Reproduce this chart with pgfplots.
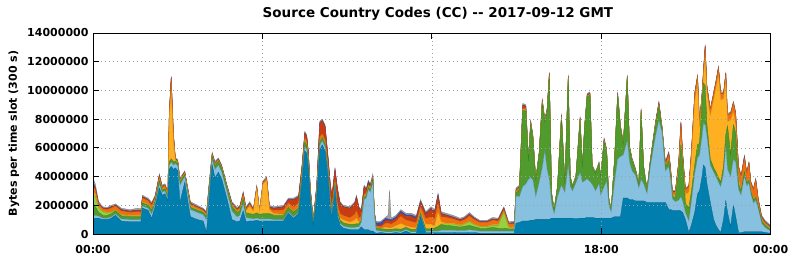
\documentclass[border=0pt]{standalone}
\usepackage{pgfplots}
\pgfplotsset{compat=1.18}
\usepackage{pgfplotstable}
\usepackage{fontspec}
\setmainfont{DejaVu Sans}
\definecolor{cdb}{RGB}{0,127,175}
\definecolor{clb}{RGB}{136,192,224}
\definecolor{cg}{RGB}{80,155,45}
\definecolor{clg}{RGB}{153,208,64}
\definecolor{cy}{RGB}{255,176,32}
\definecolor{co}{RGB}{240,112,16}
\definecolor{cr}{RGB}{200,60,20}
\definecolor{cb}{RGB}{48,80,192}
\definecolor{cgr}{RGB}{160,160,160}
\pgfplotstableread{
t db lb g lg y o r b gr
0.00 1.0 0.25 0.8 0.7 0.2 0.4 0.2 0.05 0.3
0.08 1.1 0.2 0.6 0.7 0.2 0.3 0.1 0.05 0.25
0.20 1.1 0.15 0.25 0.3 0.1 0.15 0.05 0.02 0.13
0.35 1.0 0.1 0.2 0.25 0.05 0.15 0.05 0.02 0.08
0.50 1.0 0.1 0.2 0.15 0.05 0.2 0.05 0.02 0.08
0.65 1.1 0.1 0.2 0.1 0.05 0.25 0.08 0.02 0.1
0.80 1.3 0.1 0.2 0.05 0.05 0.25 0.05 0.02 0.08
1.00 0.9 0.15 0.2 0.05 0.05 0.25 0.08 0.02 0.1
1.30 0.85 0.15 0.2 0.05 0.05 0.2 0.08 0.02 0.1
1.60 0.85 0.15 0.2 0.05 0.05 0.25 0.1 0.02 0.13
1.70 0.85 0.15 0.2 0.05 0.05 0.22 0.1 0.02 0.11
1.75 1.8 0.15 0.2 0.05 0.05 0.25 0.08 0.02 0.1
1.95 1.65 0.15 0.2 0.05 0.05 0.22 0.06 0.02 0.1
2.08 1.1 0.3 0.25 0.05 0.05 0.25 0.08 0.02 0.1
2.20 1.9 0.2 0.2 0.05 0.05 0.15 0.03 0.02 0.1
2.35 3.2 0.3 0.2 0.05 0.05 0.2 0.08 0.02 0.1
2.45 2.7 0.2 0.15 0.03 0.05 0.12 0.03 0.02 0.1
2.55 2.8 0.2 0.15 0.03 0.05 0.15 0.02 0.02 0.08
2.65 2.3 0.2 0.15 0.03 0.1 0.12 0.02 0.02 0.06
2.70 4.5 0.3 0.2 0.05 2.9 0.4 0.05 0.02 0.08
2.77 4.7 0.3 0.2 0.05 4.7 0.9 0.05 0.02 0.08
2.85 4.5 0.3 0.2 0.05 1.4 0.4 0.05 0.02 0.08
2.92 4.6 0.3 0.15 0.03 0.05 0.05 0.02 0.02 0.08
3.00 4.4 0.35 0.2 0.03 0.05 0.05 0.02 0.02 0.08
3.08 2.2 1.2 0.2 0.03 0.05 0.1 0.02 0.02 0.08
3.25 3.6 0.4 0.15 0.03 0.05 0.05 0.02 0.02 0.08
3.38 2.0 0.5 0.15 0.03 0.05 0.15 0.02 0.02 0.08
3.45 1.2 0.5 0.15 0.03 0.05 0.15 0.05 0.02 0.1
3.70 1.0 0.5 0.15 0.03 0.05 0.12 0.03 0.02 0.1
3.90 0.9 0.45 0.15 0.03 0.05 0.1 0.02 0.02 0.08
4.02 0.1 0.9 0.2 0.03 0.05 0.12 0.05 0.02 0.08
4.12 2.6 0.5 0.2 0.03 0.05 0.15 0.05 0.02 0.1
4.22 4.8 0.4 0.2 0.03 0.03 0.1 0.02 0.02 0.1
4.32 3.9 0.6 0.25 0.03 0.03 0.1 0.02 0.02 0.1
4.44 4.3 0.5 0.25 0.03 0.03 0.07 0.02 0.02 0.08
4.56 3.8 0.5 0.25 0.03 0.03 0.07 0.02 0.02 0.08
4.75 2.4 0.5 0.25 0.03 0.03 0.07 0.02 0.02 0.08
4.92 1.0 0.6 0.3 0.03 0.05 0.12 0.03 0.02 0.1
5.10 0.85 0.35 0.3 0.03 0.05 0.12 0.03 0.02 0.1
5.20 0.9 0.4 0.3 0.03 0.05 0.15 0.05 0.02 0.1
5.32 1.6 0.5 0.35 0.03 0.1 0.2 0.05 0.02 0.1
5.42 0.85 0.3 0.3 0.03 0.15 0.12 0.03 0.02 0.1
5.55 0.9 0.2 0.3 0.03 0.5 0.15 0.05 0.02 0.1
5.68 0.9 0.15 0.3 0.03 0.2 0.1 0.0 0.02 0.1
5.80 0.95 0.15 0.35 0.03 1.7 0.1 0.0 0.02 0.1
5.90 0.9 0.15 0.3 0.03 0.2 0.0 0.0 0.02 0.1
6.02 0.9 0.15 0.35 0.03 2.05 0.1 0.0 0.02 0.1
6.15 0.9 0.15 0.35 0.03 2.3 0.15 0.0 0.02 0.1
6.25 0.9 0.15 0.35 0.03 0.25 0.1 0.1 0.02 0.1
6.40 0.9 0.1 0.3 0.03 0.1 0.2 0.15 0.02 0.1
6.75 0.9 0.1 0.3 0.03 0.05 0.3 0.2 0.02 0.1
6.92 1.45 0.1 0.3 0.03 0.05 0.25 0.2 0.02 0.1
7.10 1.1 0.1 0.3 0.03 0.05 0.3 0.5 0.02 0.1
7.28 1.4 0.1 0.3 0.03 0.05 0.3 0.4 0.02 0.1
7.40 3.6 0.2 0.3 0.03 0.05 0.2 0.3 0.02 0.1
7.50 5.8 0.3 0.3 0.03 0.1 0.2 0.3 0.02 0.1
7.57 5.6 0.3 0.25 0.03 0.1 0.2 0.3 0.02 0.1
7.63 4.5 0.3 0.25 0.03 0.1 0.2 0.25 0.02 0.1
7.70 2.25 0.25 0.2 0.03 0.05 0.15 0.15 0.02 0.1
7.80 0.6 0.1 0.15 0.03 0.02 0.05 0.03 0.02 0.1
7.92 2.4 0.2 0.2 0.03 0.05 0.15 0.25 0.02 0.1
8.03 5.85 0.3 0.25 0.03 0.05 0.3 0.95 0.02 0.1
8.12 6.2 0.3 0.2 0.03 0.05 0.2 0.9 0.02 0.1
8.22 5.75 0.3 0.2 0.03 0.05 0.25 0.9 0.02 0.1
8.33 3.9 0.3 0.2 0.03 0.05 0.2 0.5 0.02 0.1
8.40 1.8 0.3 0.2 0.03 0.05 0.25 0.9 0.02 0.1
8.46 1.2 0.2 0.2 0.03 0.05 0.2 0.7 0.02 0.1
8.57 3.1 0.2 0.2 0.03 0.05 0.2 0.7 0.02 0.1
8.66 1.2 0.2 0.2 0.03 0.1 0.3 1.05 0.02 0.1
8.75 0.6 0.15 0.2 0.03 0.15 0.3 0.7 0.02 0.1
8.87 0.4 0.15 0.2 0.03 0.2 0.3 0.6 0.02 0.1
9.10 0.3 0.15 0.2 0.03 0.15 0.3 0.65 0.02 0.1
9.27 0.3 0.15 0.2 0.03 0.3 0.4 0.75 0.02 0.1
9.33 0.3 0.2 0.2 0.03 0.4 0.5 0.95 0.02 0.1
9.42 0.3 0.2 0.2 0.03 0.1 0.3 0.65 0.02 0.1
9.50 0.5 0.3 0.15 0.03 0.05 0.2 0.35 0.02 0.1
9.60 0.3 2.1 0.15 0.03 0.05 0.15 0.5 0.02 0.1
9.68 0.3 2.2 0.15 0.03 0.05 0.1 0.25 0.02 0.1
9.75 0.3 2.8 0.15 0.03 0.05 0.1 0.1 0.12 0.1
9.82 0.2 2.7 0.15 0.03 0.1 0.1 0.0 0.12 0.1
9.91 0.2 3.4 0.25 0.03 0.05 0.05 0.0 0.02 0.2
9.97 0.1 1.1 0.1 0.03 0.02 0.05 0.0 0.05 0.1
10.03 0.05 0.2 0.15 0.03 0.02 0.1 0.05 0.15 0.1
10.20 0.1 0.1 0.15 0.03 0.02 0.1 0.1 0.2 0.1
10.38 0.05 0.1 0.15 0.03 0.15 0.3 0.2 0.12 0.1
10.45 0.05 0.1 0.15 0.03 0.1 0.3 0.2 0.1 0.27
10.50 0.05 0.1 0.15 0.03 0.1 0.3 0.2 0.1 2.02
10.56 0.05 0.1 0.15 0.03 0.1 0.25 0.2 0.1 0.12
10.73 0.1 0.1 0.15 0.03 0.2 0.3 0.2 0.1 0.12
10.90 0.05 0.1 0.15 0.03 0.4 0.5 0.25 0.1 0.12
11.08 0.2 0.1 0.15 0.03 0.1 0.4 0.25 0.1 0.12
11.26 0.05 0.1 0.15 0.03 0.15 0.4 0.35 0.1 0.12
11.45 0.05 0.1 0.15 0.03 0.1 0.35 0.3 0.1 0.12
11.60 1.2 0.1 0.15 0.03 0.1 0.35 0.3 0.05 0.12
11.78 0.1 0.1 0.15 0.03 0.3 0.4 0.3 0.05 0.12
11.97 0.1 0.1 0.15 0.03 0.3 0.5 0.55 0.05 0.12
12.10 0.1 0.1 0.2 0.03 0.15 0.5 0.45 0.05 0.12
12.22 0.1 0.1 0.3 0.03 1.0 0.6 0.55 0.05 0.12
12.33 0.1 0.15 0.4 0.05 0.15 0.35 0.2 0.03 0.12
12.50 0.1 0.15 0.35 0.1 0.05 0.4 0.15 0.03 0.12
12.75 0.1 0.15 0.3 0.15 0.05 0.3 0.1 0.03 0.12
13.00 0.08 0.15 0.25 0.1 0.05 0.25 0.1 0.02 0.1
13.15 0.08 0.15 0.3 0.15 0.05 0.25 0.1 0.02 0.1
13.33 0.1 0.2 0.3 0.25 0.05 0.35 0.1 0.03 0.12
13.50 0.1 0.15 0.25 0.15 0.05 0.3 0.08 0.02 0.1
13.70 0.05 0.15 0.2 0.1 0.05 0.25 0.05 0.02 0.08
13.95 0.05 0.15 0.2 0.1 0.05 0.25 0.05 0.02 0.08
14.15 0.05 0.15 0.25 0.15 0.05 0.3 0.08 0.02 0.1
14.35 0.05 0.15 0.2 0.2 0.05 0.25 0.08 0.02 0.1
14.55 0.05 0.15 0.2 1.1 0.05 0.15 0.08 0.02 0.1
14.72 0.05 0.15 0.15 0.1 0.05 0.2 0.03 0.02 0.1
14.92 0.05 0.15 0.15 0.05 0.05 0.25 0.08 0.02 0.1
14.98 0.75 1.9 0.2 0.03 0.05 0.1 0.05 0.02 0.1
15.10 0.8 1.8 0.5 0.03 0.02 0.1 0.03 0.02 0.1
15.22 0.9 2.4 5.3 0.03 0.05 0.1 0.2 0.02 0.1
15.33 0.9 2.6 5.05 0.03 0.05 0.1 0.15 0.02 0.1
15.42 0.9 2.9 1.25 0.03 0.03 0.05 0.02 0.02 0.1
15.50 0.95 3.0 3.7 0.03 0.03 0.05 0.05 0.02 0.12
15.58 0.95 2.8 2.9 0.03 0.03 0.05 0.02 0.02 0.1
15.68 1.0 1.6 1.1 0.03 0.02 0.03 0.0 0.02 0.1
15.80 1.0 2.6 1.9 0.03 0.02 0.05 0.03 0.02 0.1
15.91 1.0 3.6 4.5 0.03 0.05 0.1 0.05 0.02 0.1
16.00 1.0 4.8 2.0 0.03 0.02 0.05 0.03 0.02 0.1
16.08 1.0 3.5 4.0 0.03 0.02 0.05 0.03 0.02 0.1
16.16 1.0 2.8 7.1 0.03 0.05 0.15 0.05 0.02 0.1
16.24 1.1 1.0 0.65 0.03 0.02 0.03 0.0 0.02 0.1
16.33 1.1 0.3 0.25 0.03 0.0 0.0 0.0 0.02 0.1
16.45 1.1 1.5 0.65 0.03 0.0 0.0 0.0 0.02 0.1
16.59 1.1 2.3 4.7 0.03 0.03 0.05 0.07 0.02 0.1
16.71 1.1 1.8 0.6 0.03 0.0 0.0 0.0 0.02 0.1
16.83 1.1 3.7 6.0 0.03 0.03 0.05 0.07 0.02 0.1
16.90 1.1 2.2 0.65 0.03 0.0 0.0 0.0 0.02 0.1
16.98 1.1 1.9 0.25 0.03 0.0 0.0 0.0 0.02 0.1
17.10 1.05 2.5 0.4 0.03 0.0 0.0 0.0 0.02 0.1
17.25 1.1 3.2 3.6 0.03 0.03 0.05 0.07 0.02 0.1
17.33 1.1 2.5 1.05 0.03 0.0 0.0 0.0 0.02 0.1
17.41 1.1 2.6 3.65 0.03 0.02 0.03 0.05 0.02 0.1
17.50 1.15 2.7 5.7 0.03 0.02 0.03 0.05 0.02 0.1
17.60 1.15 2.5 6.0 0.03 0.02 0.03 0.05 0.02 0.1
17.68 1.15 2.3 1.2 0.03 0.0 0.0 0.0 0.02 0.1
17.80 1.1 1.9 1.2 0.03 0.0 0.0 0.0 0.02 0.1
17.92 1.1 2.4 1.4 0.03 0.0 0.0 0.0 0.02 0.1
17.98 1.1 1.6 1.25 0.03 0.0 0.0 0.0 0.02 0.1
18.10 1.1 2.2 3.1 0.03 0.03 0.05 0.07 0.02 0.1
18.19 1.1 2.6 2.0 0.03 0.02 0.03 0.05 0.02 0.1
18.27 1.1 0.9 0.35 0.03 0.0 0.0 0.0 0.02 0.1
18.35 1.1 0.45 0.1 0.03 0.0 0.0 0.0 0.02 0.1
18.47 1.2 2.4 1.5 0.03 0.0 0.02 0.03 0.02 0.1
18.58 1.2 4.0 4.4 0.03 0.02 0.05 0.08 0.02 0.1
18.68 1.2 4.2 2.0 0.03 0.0 0.02 0.03 0.02 0.1
18.78 2.5 3.0 0.75 0.03 0.0 0.02 0.03 0.02 0.1
18.92 2.5 4.0 4.35 0.03 0.02 0.05 0.03 0.02 0.1
19.00 2.4 2.6 1.0 0.03 0.0 0.02 0.03 0.02 0.1
19.09 2.4 2.0 0.7 0.03 0.0 0.02 0.03 0.02 0.1
19.21 2.3 1.8 0.3 0.03 0.0 0.02 0.03 0.02 0.1
19.33 2.3 0.9 0.25 0.03 0.0 0.02 0.03 0.02 0.1
19.41 2.3 1.5 4.7 0.03 0.02 0.05 0.03 0.02 0.1
19.50 2.3 1.2 1.1 0.03 0.0 0.02 0.03 0.02 0.1
19.62 2.2 0.6 0.2 0.03 0.0 0.02 0.03 0.02 0.1
19.74 2.2 2.5 0.4 0.03 0.0 0.02 0.03 0.02 0.1
19.92 2.2 4.6 0.75 0.03 0.02 0.05 0.08 0.02 0.1
20.04 2.2 5.7 1.0 0.03 0.02 0.1 0.08 0.02 0.1
20.15 2.2 4.9 0.2 0.03 0.02 0.1 0.03 0.02 0.1
20.27 2.2 2.2 0.3 0.03 0.05 0.1 0.05 0.02 0.1
20.39 1.7 3.0 0.4 0.03 0.05 0.35 0.1 0.02 0.1
20.45 1.7 2.2 0.3 0.03 0.05 0.35 0.05 0.02 0.1
20.52 1.65 0.8 0.2 0.03 0.05 0.15 0.05 0.02 0.1
20.62 1.65 0.6 0.25 0.03 0.15 0.25 0.0 0.02 0.1
20.74 1.65 0.7 2.0 0.03 0.2 0.35 0.0 0.02 0.1
20.82 1.6 1.0 3.6 0.03 0.5 1.0 0.0 0.02 0.1
20.88 1.5 0.8 2.7 0.03 0.2 0.4 0.0 0.02 0.1
20.98 1.0 0.5 0.6 0.03 0.6 0.35 0.0 0.02 0.1
21.10 0.1 0.8 0.9 0.03 1.1 0.35 0.0 0.02 0.1
21.19 0.6 1.6 0.7 0.03 2.3 0.4 0.0 0.02 0.1
21.31 1.5 2.7 0.6 0.03 4.4 0.55 0.0 0.02 0.1
21.41 2.8 2.5 0.9 0.03 4.2 0.55 0.0 0.02 0.1
21.48 3.0 2.5 0.8 0.03 1.1 0.3 0.0 0.02 0.1
21.57 4.0 2.8 2.5 0.03 0.2 0.25 0.0 0.02 0.1
21.62 4.8 2.9 2.8 0.03 0.5 0.4 0.0 0.02 0.1
21.68 4.6 3.0 2.7 0.03 2.0 0.75 0.0 0.02 0.1
21.74 3.5 3.3 0.8 0.03 2.2 0.45 0.0 0.02 0.1
21.86 2.2 2.6 0.4 0.03 3.0 0.4 0.0 0.02 0.1
21.98 1.0 3.3 0.3 0.03 4.7 0.45 0.0 0.02 0.1
22.06 0.6 3.4 0.3 0.03 5.8 0.45 0.0 0.02 0.1
22.15 0.3 3.3 0.3 0.03 7.2 0.45 0.0 0.02 0.1
22.23 0.1 3.2 0.3 0.03 5.7 0.45 0.0 0.02 0.1
22.33 1.0 3.2 0.5 0.03 4.7 0.35 0.0 0.02 0.1
22.41 2.3 3.8 0.8 0.03 3.8 0.45 0.0 0.02 0.1
22.47 1.5 3.0 3.0 0.03 0.3 0.45 0.0 0.02 0.1
22.58 0.5 3.5 1.5 0.03 2.4 0.45 0.0 0.02 0.1
22.68 2.0 3.2 2.4 0.03 0.9 0.6 0.0 0.02 0.1
22.76 1.2 3.8 2.0 0.03 0.5 0.85 0.0 0.02 0.1
22.86 0.1 3.0 0.4 0.03 0.3 0.85 0.0 0.02 0.1
22.95 0.1 2.6 0.3 0.03 0.1 0.85 0.0 0.02 0.1
23.07 0.15 3.9 0.3 0.03 0.1 0.8 0.1 0.02 0.1
23.15 0.15 3.2 0.2 0.03 0.05 0.6 0.0 0.02 0.1
23.23 0.15 3.4 0.2 0.03 0.05 1.1 0.0 0.02 0.1
23.30 0.15 2.6 0.2 0.03 0.05 0.5 0.0 0.02 0.1
23.39 0.15 2.0 0.2 0.03 0.05 0.65 0.0 0.02 0.1
23.47 0.15 2.2 0.2 0.03 0.05 1.15 0.0 0.02 0.1
23.56 0.15 1.6 0.2 0.03 0.05 0.35 0.0 0.02 0.1
23.68 0.15 0.6 0.15 0.03 0.05 0.15 0.05 0.02 0.1
23.80 0.1 0.35 0.15 0.05 0.05 0.1 0.03 0.02 0.1
24.00 0.05 0.15 0.1 0.05 0.03 0.07 0.03 0.02 0.1
}\data
\begin{document}
\begin{tikzpicture}
\useasboundingbox (0,0) rectangle (792pt,259pt);
\begin{axis}[
  at={(93pt,25pt)}, anchor=south west,
  scale only axis, width=677.7pt, height=201pt,
  xmin=0, xmax=24, ymin=0, ymax=14,
  xtick={0,6,12,18,24},
  xticklabels={00:00,06:00,12:00,18:00,00:00},
  ytick={0,2,4,6,8,10,12,14},
  yticklabels={0,2000000,4000000,6000000,8000000,10000000,12000000,14000000},
  grid=major,
  major grid style={dash pattern=on 1pt off 3pt, gray!75, line width=0.7pt},
  axis line style={line width=0.8pt},
  tick style={black, line width=0.8pt},
  major tick length=6pt,
  ticklabel style={font=\bfseries\fontsize{11}{11}\selectfont},
  yticklabel style={xshift=-1pt},
  xticklabel style={yshift=-8pt},
  title={Source Country Codes (CC) -{}- 2017-09-12 GMT},
  title style={font=\bfseries\fontsize{13.5}{14}\selectfont, at={(axis description cs:0.509,1)}, anchor=base, yshift=9pt, inner sep=0pt},
  ylabel={Bytes per time slot (300 s)},
  every axis y label/.style={at={(axis description cs:-0.1166,0.5)}, rotate=90, anchor=center, font=\bfseries\fontsize{11}{11}\selectfont},
  stack plots=y,
  axis on top,
]
\addplot[fill=cdb, draw=cdb!80!black, line width=0.3pt] table[x=t,y=db] {\data} \closedcycle;
\addplot[fill=clb, draw=clb!75!black, line width=0.3pt] table[x=t,y=lb] {\data} \closedcycle;
\addplot[fill=cg, draw=cg!80!black, line width=0.3pt] table[x=t,y=g] {\data} \closedcycle;
\addplot[fill=clg, draw=clg!80!black, line width=0.3pt] table[x=t,y=lg] {\data} \closedcycle;
\addplot[fill=cy, draw=cy!85!black, line width=0.3pt] table[x=t,y=y] {\data} \closedcycle;
\addplot[fill=co, draw=co!85!black, line width=0.3pt] table[x=t,y=o] {\data} \closedcycle;
\addplot[fill=cr, draw=cr!85!black, line width=0.3pt] table[x=t,y=r] {\data} \closedcycle;
\addplot[fill=cb, draw=cb!85!black, line width=0.3pt] table[x=t,y=b] {\data} \closedcycle;
\addplot[fill=cgr, draw=gray, line width=0.3pt] table[x=t,y=gr] {\data} \closedcycle;
\end{axis}
\end{tikzpicture}
\end{document}
